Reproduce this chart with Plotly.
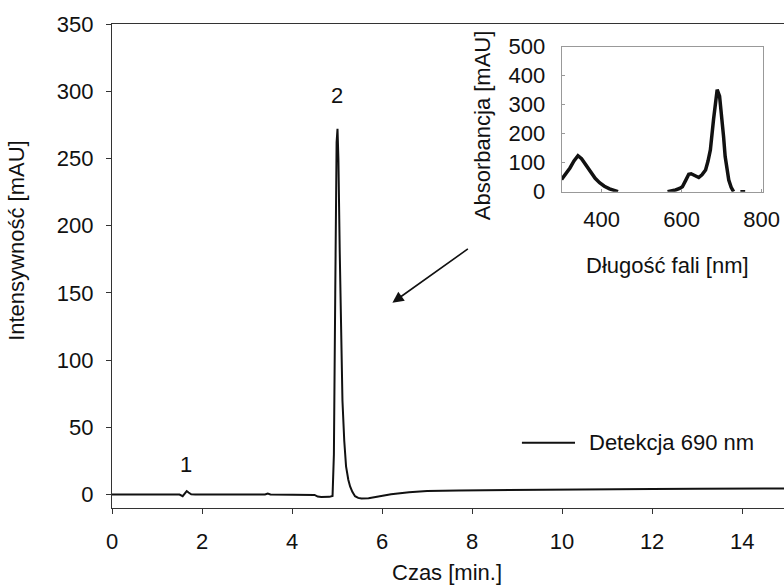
import plotly.graph_objects as go

# Main chromatogram (detection 690 nm)
time_min = [0.0, 1.0, 1.5, 1.57, 1.61, 1.66, 1.7, 1.76, 1.85, 3.0, 3.4, 3.46, 3.52, 4.5, 4.57, 4.65, 4.83, 4.9,
            4.93, 4.96, 4.99, 5.01, 5.03, 5.06, 5.09, 5.12, 5.16, 5.2, 5.25, 5.29, 5.34, 5.4, 5.47, 5.54, 5.7,
            5.94, 6.2, 6.6, 7.0, 7.7, 8.5, 9.5, 10.0, 11.0, 12.0, 13.0, 14.0, 15.0]
intensity = [0.0, 0.0, 0.0, -1.2, 0.5, 2.6, 1.5, 0.2, 0.0, 0.0, 0.0, 0.7, 0.0, -0.3, -1.5, -1.8, -1.7, -1.0,
             30, 150, 262, 272, 250, 180, 120, 70, 40, 21, 11, 6, 2, -1.2, -2.5, -3.0, -2.7,
             -1.2, 0.3, 1.8, 2.6, 3.0, 3.3, 3.6, 3.8, 4.0, 4.2, 4.3, 4.4, 4.5]

# Inset absorbance spectrum (two segments)
wl_a = [300, 310, 321, 331, 341, 350, 358, 366, 374, 384, 395, 407, 420, 430, 441]
abs_a = [42, 60, 82, 106, 124, 114, 98, 80, 63, 46, 31, 19, 10, 4, 0]
wl_b = [565, 575, 585, 595, 602, 610, 618, 624, 631, 637, 643, 651, 660, 666, 672, 680, 689, 695, 701, 705,
        709, 714, 718, 724, 730]
abs_b = [0, 2, 6, 11, 17, 38, 60, 62, 57, 52, 49, 58, 75, 105, 144, 250, 352, 330, 259, 190,
         121, 75, 40, 15, 0]
wl_c = [747, 759]
abs_c = [0, 0]

x_ticks = [0, 2, 4, 6, 8, 10, 12, 14]
y_ticks = [0, 50, 100, 150, 200, 250, 300, 350]
inset_x_ticks = [400, 600, 800]
inset_y_ticks = [0, 100, 200, 300, 400, 500]

FONT = "Liberation Sans, Arial, sans-serif"
FS = 22
BLACK = "#111111"

fig = go.Figure()
fig.add_trace(go.Scatter(x=time_min, y=intensity, mode="lines",
                         line=dict(color=BLACK, width=2), name="Detekcja 690 nm",
                         showlegend=False, xaxis="x", yaxis="y"))
for wx, wy in [(wl_a, abs_a), (wl_b, abs_b), (wl_c, abs_c)]:
    fig.add_trace(go.Scatter(x=wx, y=wy, mode="lines", line=dict(color=BLACK, width=3.5),
                             showlegend=False, xaxis="x2", yaxis="y2"))

fig.update_layout(
    width=784, height=585,
    margin=dict(l=112, r=0, t=24, b=77, autoexpand=False),
    plot_bgcolor="white", paper_bgcolor="white",
    font=dict(family=FONT, size=FS, color=BLACK),
    showlegend=False,
    xaxis=dict(range=[0, 14.93], tickvals=x_ticks, showgrid=False, zeroline=False, automargin=False,
               showline=True, linecolor="#333333", linewidth=1.2, mirror=True,
               ticks="outside", ticklen=5, tickcolor="#333333",
               tickfont=dict(size=FS), ticklabelstandoff=8),
    yaxis=dict(range=[-10, 350], tickvals=y_ticks, showgrid=False, zeroline=False, automargin=False,
               showline=True, linecolor="#333333", linewidth=1.2, mirror=False,
               ticks="outside", ticklen=5, tickcolor="#333333",
               tickfont=dict(size=FS), ticklabelstandoff=8),
    xaxis2=dict(domain=[0.669, 0.969], anchor="y2", range=[300, 804], tickvals=inset_x_ticks,
                showgrid=False, zeroline=False, automargin=False,
                showline=True, linecolor="#999999", linewidth=1,
                mirror=True, ticks="inside", ticklen=3, tickcolor="#999999",
                tickfont=dict(size=FS), ticklabelstandoff=8),
    yaxis2=dict(domain=[0.6535, 0.953], anchor="x2", range=[0, 500], tickvals=inset_y_ticks,
                showgrid=False, zeroline=False, automargin=False,
                showline=True, linecolor="#999999", linewidth=1,
                mirror=True, ticks="inside", ticklen=3, tickcolor="#999999",
                tickfont=dict(size=FS), ticklabelstandoff=11),
)

annotations = [
    dict(text="1", x=1.65, y=22, xref="x", yref="y", showarrow=False, font=dict(size=FS)),
    dict(text="2", x=4.99, y=297, xref="x", yref="y", showarrow=False, font=dict(size=FS)),
    dict(text="", x=6.23, y=142.7, ax=7.94, ay=183.5, xref="x", yref="y", axref="x", ayref="y",
         showarrow=True, arrowhead=2, arrowsize=1.4, arrowwidth=1.6, arrowcolor=BLACK),
    dict(text="Detekcja 690 nm", x=0.707, y=38.6, xref="paper", yref="y", xanchor="left",
         yanchor="middle", showarrow=False, font=dict(size=FS)),
    dict(text="Intensywność [mAU]", x=-0.1414, y=0.554, xref="paper", yref="paper", textangle=-90,
         xanchor="center", yanchor="middle", showarrow=False, font=dict(size=FS)),
    dict(text="Czas [min.]", x=0.498, y=-0.134, xref="paper", yref="paper",
         xanchor="center", yanchor="middle", showarrow=False, font=dict(size=FS)),
    dict(text="Absorbancja [mAU]", x=0.5506, y=0.791, xref="paper", yref="paper", textangle=-90,
         xanchor="center", yanchor="middle", showarrow=False, font=dict(size=FS)),
    dict(text="Długość fali [nm]", x=0.826, y=0.502, xref="paper", yref="paper",
         xanchor="center", yanchor="middle", showarrow=False, font=dict(size=FS)),
]
fig.update_layout(annotations=annotations)
fig.add_shape(type="line", xref="paper", yref="y", x0=0.610, x1=0.689, y0=38.6, y1=38.6,
              line=dict(color=BLACK, width=2))

fig.write_html("out.html")
